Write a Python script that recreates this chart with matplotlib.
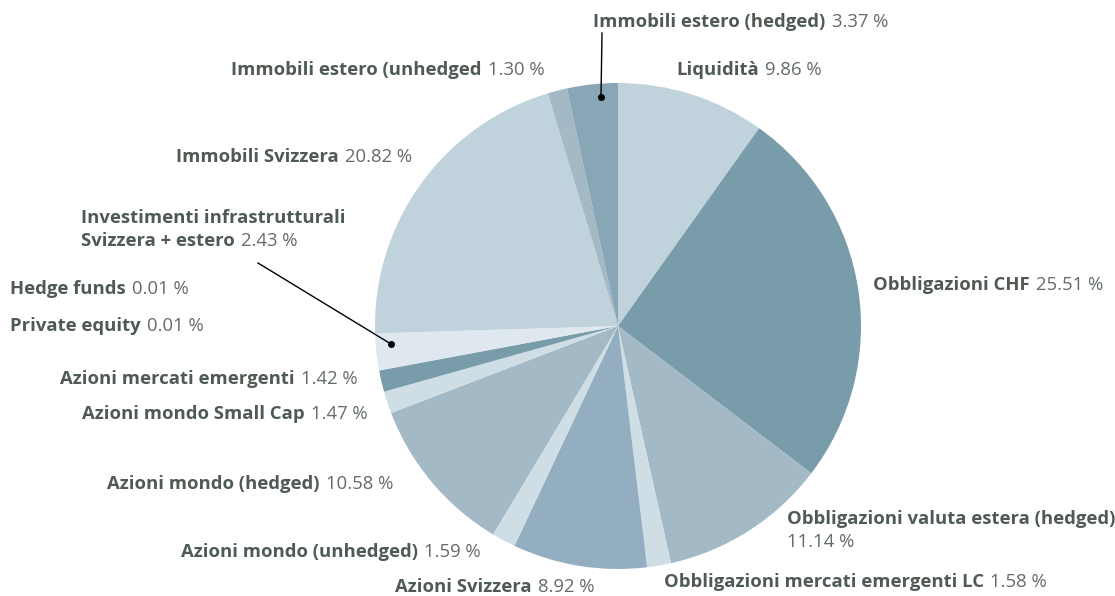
import matplotlib.pyplot as plt

# portfolio allocation, clockwise from 12 o'clock
names = ["Liquidità", "Obbligazioni CHF", "Obbligazioni valuta estera (hedged)",
         "Obbligazioni mercati emergenti LC", "Azioni Svizzera", "Azioni mondo (unhedged)",
         "Azioni mondo (hedged)", "Azioni mondo Small Cap", "Azioni mercati emergenti",
         "Private equity", "Hedge funds", "Investimenti infrastrutturali\nSvizzera + estero",
         "Immobili Svizzera", "Immobili estero (unhedged", "Immobili estero (hedged)"]
shares = [9.86, 25.51, 11.14, 1.58, 8.92, 1.59, 10.58, 1.47, 1.42, 0.01, 0.01, 2.43,
          20.82, 1.30, 3.37]
colors = ["#c0d2dc", "#789caa", "#a3b9c6", "#cfdde5", "#92aec0", "#cfdde5", "#a3b9c6",
          "#cfdde5", "#789caa", "#a3b9c6", "#c0d2dc", "#e0e8ef", "#c0d2dc", "#a3b9c6",
          "#88a6b6"]

# label anchor (left edge, vertical centre) in pixels from the top-left corner
label_pos = {
    0: (676, 70), 1: (873, 285), 2: (787, 519), 3: (664, 582), 4: (395, 587),
    5: (181, 552), 6: (107, 484), 7: (82, 414), 8: (60, 379), 9: (10, 326),
    10: (10, 289), 11: (81, 218), 12: (176, 157), 13: (231, 70), 14: (593, 22),
}

W, H = 1115, 596
fig = plt.figure(figsize=(W / 100, H / 100), dpi=100)
ax = fig.add_axes([0, 0, 1, 1])
ax.set_xlim(0, W)
ax.set_ylim(0, H)
ax.set_aspect("equal")
ax.axis("off")

cx, cy, r = 618, H - 326, 243
ax.pie(shares, colors=colors, startangle=90, counterclock=False,
       center=(cx, cy), radius=r, wedgeprops=dict(linewidth=0))
ax.set_xlim(0, W)
ax.set_ylim(0, H)

bold_c = "#4f5a52"
norm_c = "#646c66"
fs = 13.3
font = "Open Sans"

for i, name in enumerate(names):
    x, y = label_pos[i]
    val = f"{shares[i]:.2f} %"
    lines = name.split("\n")
    if i == 2:
        # value goes on its own line under the name
        ax.text(x, H - y, lines[0], fontsize=fs, fontweight="bold", color=bold_c,
                family=font, va="center", ha="left")
        ax.text(x, H - y - 23, val, fontsize=fs, color=norm_c, family=font,
                va="center", ha="left")
        continue
    if len(lines) == 2:
        ax.text(x, H - y, lines[0], fontsize=fs, fontweight="bold", color=bold_c,
                family=font, va="center", ha="left")
        y = y + 23
        last = lines[1]
    else:
        last = lines[0]
    t = ax.text(x, H - y, last, fontsize=fs, fontweight="bold", color=bold_c,
                family=font, va="center", ha="left")
    ax.annotate(val, xy=(1, 0), xycoords=t, xytext=(4.5, 0), textcoords="offset points",
                fontsize=fs, color=norm_c, family=font, va="bottom", ha="left")

# leader lines for the narrow slices
leaders = [((602, 33), (601, 97)), ((258, 263), (391, 344))]
for (x0, y0), (x1, y1) in leaders:
    ax.plot([x0, x1], [H - y0, H - y1], color="black", lw=1)
    ax.plot(x1, H - y1, "o", color="black", ms=4)

fig.savefig("out.png", dpi=100)
